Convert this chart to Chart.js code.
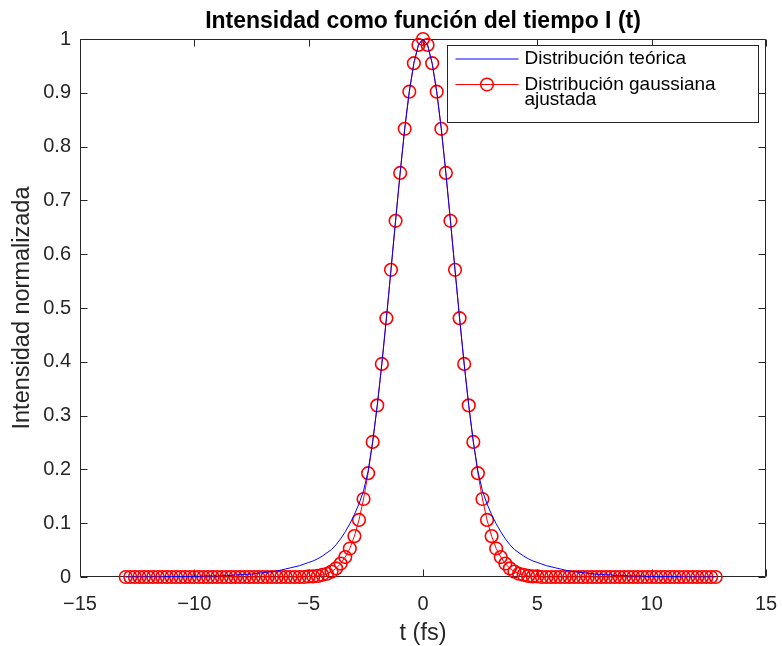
<!DOCTYPE html>
<html>
<head>
<meta charset="utf-8">
<script src="https://cdn.jsdelivr.net/npm/chart.js@4"></script>
<style>
html,body{margin:0;padding:0;background:#ffffff;}
#wrap{width:782px;height:646px;}
</style>
</head>
<body>
<div id="wrap"><canvas id="c" width="782" height="646"></canvas></div>
<script>
// Time axis (fs)
const tiempo = [
  -13,-12.8,-12.6,-12.4,-12.2,-12,-11.8,-11.6,-11.4,-11.2,
  -11,-10.8,-10.6,-10.4,-10.2,-10,-9.8,-9.6,-9.4,-9.2,
  -9,-8.8,-8.6,-8.4,-8.2,-8,-7.8,-7.6,-7.4,-7.2,
  -7,-6.8,-6.6,-6.4,-6.2,-6,-5.8,-5.6,-5.4,-5.2,
  -5,-4.8,-4.6,-4.4,-4.2,-4,-3.8,-3.6,-3.4,-3.2,
  -3,-2.8,-2.6,-2.4,-2.2,-2,-1.8,-1.6,-1.4,-1.2,
  -1,-0.8,-0.6,-0.4,-0.2,
  0,
  0.2,0.4,0.6,0.8,1,
  1.2,1.4,1.6,1.8,2,2.2,2.4,2.6,2.8,3,
  3.2,3.4,3.6,3.8,4,4.2,4.4,4.6,4.8,5,
  5.2,5.4,5.6,5.8,6,6.2,6.4,6.6,6.8,7,
  7.2,7.4,7.6,7.8,8,8.2,8.4,8.6,8.8,9,
  9.2,9.4,9.6,9.8,10,10.2,10.4,10.6,10.8,11,
  11.2,11.4,11.6,11.8,12,12.2,12.4,12.6,12.8
];

// Theoretical distribution (blue line)
const teorica = [
  0,0,0,0,0,0,0,0,0,0.001,
  0.001,0.001,0.001,0.001,0.001,0.001,0.001,0.002,0.002,0.002,
  0.002,0.003,0.003,0.003,0.004,0.004,0.005,0.005,0.006,0.007,
  0.008,0.009,0.010,0.011,0.013,0.015,0.017,0.019,0.021,0.024,
  0.027,0.030,0.034,0.039,0.045,0.051,0.060,0.071,0.084,0.099,
  0.116,0.136,0.160,0.197,0.252,0.319,0.396,0.481,0.571,0.662,
  0.751,0.833,0.902,0.955,0.989,
  1,
  0.989,0.955,0.902,0.833,0.751,
  0.662,0.571,0.481,0.396,0.319,0.252,0.197,0.160,0.136,0.116,
  0.099,0.084,0.071,0.060,0.051,0.045,0.039,0.034,0.030,0.027,
  0.024,0.021,0.019,0.017,0.015,0.013,0.011,0.010,0.009,0.008,
  0.007,0.006,0.005,0.005,0.004,0.004,0.003,0.003,0.003,0.002,
  0.002,0.002,0.002,0.001,0.001,0.001,0.001,0.001,0.001,0.001,
  0.001,0,0,0,0,0,0,0,0
];

// Fitted gaussian distribution (red circles)
const ajustada = [
  0,0,0,0,0,0,0,0,0,0,
  0,0,0,0,0,0,0,0,0,0,
  0,0,0,0,0,0,0,0,0,0,
  0,0,0,0,0,0,0,0,0,0,
  0.001,0.001,0.002,0.004,0.006,0.010,0.016,0.025,0.037,0.053,
  0.076,0.106,0.145,0.193,0.251,0.319,0.396,0.481,0.571,0.662,
  0.751,0.833,0.902,0.955,0.989,
  1,
  0.989,0.955,0.902,0.833,0.751,
  0.662,0.571,0.481,0.396,0.319,0.251,0.193,0.145,0.106,0.076,
  0.053,0.037,0.025,0.016,0.010,0.006,0.004,0.002,0.001,0.001,
  0,0,0,0,0,0,0,0,0,0,
  0,0,0,0,0,0,0,0,0,0,
  0,0,0,0,0,0,0,0,0,0,
  0,0,0,0,0,0,0,0,0
];

const xTicks = [-15,-10,-5,0,5,10,15];
const yTicks = [0,0.1,0.2,0.3,0.4,0.5,0.6,0.7,0.8,0.9,1];

const titulo = 'Intensidad como función del tiempo I (t)';
const etiquetaX = 't (fs)';
const etiquetaY = 'Intensidad normalizada';
const nombreTeorica = 'Distribución teórica';
const nombreAjustada = ['Distribución gaussiana', 'ajustada'];

const AXIS = '#262626';
const FONT = "'Liberation Sans', Arial, Helvetica, sans-serif";

const boxPlugin = {
  id: 'matlabBox',
  beforeDatasetsDraw(chart) {
    const {ctx, chartArea: a, scales: {x, y}} = chart;
    ctx.save();
    ctx.strokeStyle = AXIS;
    ctx.lineWidth = 1;
    const L = Math.round(a.left) + 0.5, R = Math.round(a.right) - 0.5;
    const T = Math.round(a.top) + 0.5, B = Math.round(a.bottom) - 0.5;
    ctx.beginPath();
    ctx.rect(L, T, R - L, B - T);
    ctx.stroke();
    const len = 7;
    ctx.beginPath();
    x.ticks.forEach(t => {
      const px = Math.round(x.getPixelForValue(t.value)) + 0.5;
      ctx.moveTo(px, B); ctx.lineTo(px, B - len);
      ctx.moveTo(px, T); ctx.lineTo(px, T + len);
    });
    y.ticks.forEach(t => {
      const py = Math.round(y.getPixelForValue(t.value)) + 0.5;
      ctx.moveTo(L, py); ctx.lineTo(L + len, py);
      ctx.moveTo(R, py); ctx.lineTo(R - len, py);
    });
    ctx.stroke();
    ctx.restore();
  }
};

const legendPlugin = {
  id: 'insideLegend',
  afterDatasetsDraw(chart) {
    const {ctx, chartArea: a} = chart;
    const ds = chart.data.datasets;
    const w = 311, h = 77;
    const bx = Math.round(a.right - 8 - w) + 0.5;
    const by = Math.round(a.top + 6) + 0.5;
    ctx.save();
    ctx.fillStyle = '#ffffff';
    ctx.fillRect(bx, by, w, h);
    ctx.strokeStyle = AXIS;
    ctx.lineWidth = 1;
    ctx.strokeRect(bx, by, w, h);
    ctx.font = "19px " + FONT;
    ctx.textBaseline = 'middle';
    ctx.textAlign = 'left';
    // entry 1
    let ly = by + 13.5;
    ctx.strokeStyle = ds[0].borderColor;
    ctx.lineWidth = 1.2;
    ctx.beginPath(); ctx.moveTo(bx + 8, ly); ctx.lineTo(bx + 71, ly); ctx.stroke();
    ctx.fillStyle = '#000000';
    ctx.fillText(ds[0].label, bx + 77, ly);
    // entry 2
    ly = by + 39;
    ctx.strokeStyle = ds[1].borderColor;
    ctx.lineWidth = ds[1].borderWidth;
    ctx.beginPath(); ctx.moveTo(bx + 8, ly); ctx.lineTo(bx + 71, ly); ctx.stroke();
    ctx.lineWidth = ds[1].pointBorderWidth;
    ctx.strokeStyle = ds[1].pointBorderColor;
    ctx.beginPath(); ctx.arc(bx + 39.5, ly, ds[1].pointRadius, 0, Math.PI * 2); ctx.stroke();
    ctx.fillStyle = '#000000';
    const lines = ds[1].label;
    lines.forEach((s, i) => ctx.fillText(s, bx + 77, ly + i * 15));
    ctx.restore();
  }
};

const fmtX = v => (v < 0 ? '\u2212' + Math.abs(v) : String(v));
const fmtY = v => String(Math.round(v * 10) / 10);

new Chart(document.getElementById('c').getContext('2d'), {
  type: 'line',
  data: {
    datasets: [
      {
        label: nombreTeorica,
        data: tiempo.map((t, i) => ({x: t, y: teorica[i]})),
        borderColor: '#0000ff',
        borderWidth: 1,
        pointRadius: 0,
        fill: false,
        tension: 0
      },
      {
        label: nombreAjustada,
        data: tiempo.map((t, i) => ({x: t, y: ajustada[i]})),
        borderColor: '#ff0000',
        borderWidth: 1,
        pointRadius: 6.3,
        pointBorderWidth: 1.6,
        pointBorderColor: '#ff0000',
        pointBackgroundColor: 'rgba(255,255,255,0)',
        pointStyle: 'circle',
        fill: false,
        tension: 0,
        clip: false
      }
    ]
  },
  options: {
    responsive: false,
    animation: false,
    devicePixelRatio: 1,
    layout: {padding: {left: 0, right: 16, top: 0, bottom: 0}},
    plugins: {
      legend: {display: false},
      tooltip: {enabled: false},
      title: {
        display: true,
        text: titulo,
        fullSize: false,
        color: '#000000',
        font: {family: FONT, size: 23, weight: 'bold'},
        padding: {top: 7.5, bottom: 3.9}
      }
    },
    scales: {
      x: {
        type: 'linear',
        min: -15, max: 15,
        afterBuildTicks: s => { s.ticks = xTicks.map(v => ({value: v})); },
        afterFit: s => { s.height = 69; s.paddingLeft = 0; s.paddingRight = 0; },
        grid: {display: false, drawTicks: false},
        border: {display: false},
        ticks: {padding: 15, color: AXIS, font: {family: FONT, size: 20}, callback: v => fmtX(v), maxRotation: 0, autoSkip: false},
        title: {display: true, text: etiquetaX, color: AXIS, font: {family: FONT, size: 23.5}, padding: {top: 0, bottom: -2}}
      },
      y: {
        type: 'linear',
        min: 0, max: 1,
        afterBuildTicks: s => { s.ticks = yTicks.map(v => ({value: v})); },
        afterFit: s => { s.width = 80; },
        grid: {display: false, drawTicks: false},
        border: {display: false},
        ticks: {padding: 9, color: AXIS, font: {family: FONT, size: 20}, callback: v => fmtY(v), autoSkip: false},
        title: {display: true, text: etiquetaY, color: AXIS, font: {family: FONT, size: 23.5}, padding: {top: 8, bottom: 0}}
      }
    }
  },
  plugins: [boxPlugin, legendPlugin]
});
</script>
</body>
</html>
